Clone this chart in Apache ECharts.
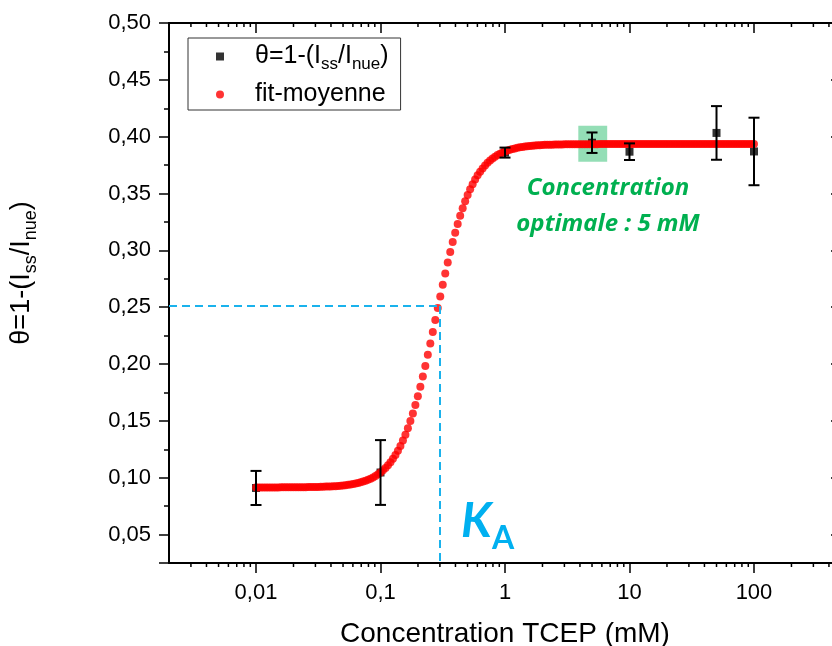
<!DOCTYPE html>
<html>
<head>
<meta charset="utf-8">
<script src="https://cdn.jsdelivr.net/npm/echarts@6/dist/echarts.min.js"></script>
<style>html,body{margin:0;padding:0;background:#fff;}#c{width:832px;height:646px;}</style>
</head>
<body>
<div id="c"></div>
<script>
// ---- data ----
const dataX = [0.01, 0.1, 1, 5, 10, 50, 100];
const dataY = [0.091, 0.1046, 0.386, 0.3947, 0.3868, 0.4033, 0.387];
const dataErr = [0.015, 0.0285, 0.0044, 0.009, 0.0073, 0.0236, 0.0297];

const fitX = [
0.01,0.010471,0.010965,0.011482,0.012023,0.012589,0.013183,0.013804,0.014454,0.015136,
0.015849,0.016596,0.017378,0.018197,0.019055,0.019953,0.020893,0.021878,0.022909,0.023988,
0.025119,0.026303,0.027542,0.02884,0.0302,0.031623,0.033113,0.034674,0.036308,0.038019,
0.039811,0.041687,0.043652,0.045709,0.047863,0.050119,0.052481,0.054954,0.057544,0.060256,
0.063096,0.066069,0.069183,0.072444,0.075858,0.079433,0.083176,0.087096,0.091201,0.095499,
0.1,0.10471,0.10965,0.11482,0.12023,0.12589,0.13183,0.13804,0.14454,0.15136,
0.15849,0.16596,0.17378,0.18197,0.19055,0.19953,0.20893,0.21878,0.22909,0.23988,
0.25119,0.26303,0.27542,0.2884,0.302,0.31623,0.33113,0.34674,0.36308,0.38019,
0.39811,0.41687,0.43652,0.45709,0.47863,0.50119,0.52481,0.54954,0.57544,0.60256,
0.63096,0.66069,0.69183,0.72444,0.75858,0.79433,0.83176,0.87096,0.91201,0.95499,
1,1.0471,1.0965,1.1482,1.2023,1.2589,1.3183,1.3804,1.4454,1.5136,
1.5849,1.6596,1.7378,1.8197,1.9055,1.9953,2.0893,2.1878,2.2909,2.3988,
2.5119,2.6303,2.7542,2.884,3.02,3.1623,3.3113,3.4674,3.6308,3.8019,
3.9811,4.1687,4.3652,4.5709,4.7863,5.0119,5.2481,5.4954,5.7544,6.0256,
6.3096,6.6069,6.9183,7.2444,7.5858,7.9433,8.3176,8.7096,9.1201,9.5499,
10,10.471,10.965,11.482,12.023,12.589,13.183,13.804,14.454,15.136,
15.849,16.596,17.378,18.197,19.055,19.953,20.893,21.878,22.909,23.988,
25.119,26.303,27.542,28.84,30.2,31.623,33.113,34.674,36.308,38.019,
39.811,41.687,43.652,45.709,47.863,50.119,52.481,54.954,57.544,60.256,
63.096,66.069,69.183,72.444,75.858,79.433,83.176,87.096,91.201,95.499,
100];

const fitY = [
0.0915,0.0915,0.0915,0.0915,0.0915,0.0915,0.0915,0.0915,0.0915,0.0915,
0.0916,0.0916,0.0916,0.0916,0.0916,0.0916,0.0916,0.0916,0.0917,0.0917,
0.0917,0.0918,0.0918,0.0918,0.0919,0.0919,0.0920,0.0921,0.0922,0.0923,
0.0924,0.0925,0.0926,0.0928,0.0930,0.0932,0.0935,0.0938,0.0941,0.0945,
0.0949,0.0954,0.0960,0.0966,0.0974,0.0982,0.0992,0.1003,0.1016,0.1030,
0.1047,0.1065,0.1086,0.1110,0.1136,0.1167,0.1200,0.1238,0.1280,0.1327,
0.1379,0.1435,0.1498,0.1565,0.1639,0.1717,0.1801,0.1890,0.1983,0.2081,
0.2181,0.2283,0.2387,0.2492,0.2595,0.2697,0.2797,0.2893,0.2985,0.3073,
0.3155,0.3233,0.3304,0.3371,0.3431,0.3487,0.3537,0.3582,0.3623,0.3660,
0.3692,0.3721,0.3747,0.3770,0.3790,0.3808,0.3824,0.3838,0.3850,0.3861,
0.3870,0.3878,0.3886,0.3892,0.3897,0.3902,0.3906,0.3910,0.3913,0.3916,
0.3918,0.3921,0.3922,0.3924,0.3925,0.3927,0.3928,0.3929,0.3930,0.3930,
0.3931,0.3931,0.3932,0.3932,0.3933,0.3933,0.3933,0.3933,0.3934,0.3934,
0.3934,0.3934,0.3934,0.3934,0.3934,0.3934,0.3934,0.3934,0.3935,0.3935,
0.3935,0.3935,0.3935,0.3935,0.3935,0.3935,0.3935,0.3935,0.3935,0.3935,
0.3935,0.3935,0.3935,0.3935,0.3935,0.3935,0.3935,0.3935,0.3935,0.3935,
0.3935,0.3935,0.3935,0.3935,0.3935,0.3935,0.3935,0.3935,0.3935,0.3935,
0.3935,0.3935,0.3935,0.3935,0.3935,0.3935,0.3935,0.3935,0.3935,0.3935,
0.3935,0.3935,0.3935,0.3935,0.3935,0.3935,0.3935,0.3935,0.3935,0.3935,
0.3935,0.3935,0.3935,0.3935,0.3935,0.3935,0.3935,0.3935,0.3935,0.3935,
0.3935];

const xTickValues = [0.01, 0.1, 1, 10, 100];
const xTickLabels = ['0,01', '0,1', '1', '10', '100'];
const xMinorTickValues = [
0.003, 0.004, 0.005, 0.006, 0.007, 0.008, 0.009,
0.02, 0.03, 0.04, 0.05, 0.06, 0.07, 0.08, 0.09,
0.2, 0.3, 0.4, 0.5, 0.6, 0.7, 0.8, 0.9,
2, 3, 4, 5, 6, 7, 8, 9,
20, 30, 40, 50, 60, 70, 80, 90,
200, 300, 400];
const yTickValues = [0.05, 0.10, 0.15, 0.20, 0.25, 0.30, 0.35, 0.40, 0.45, 0.50];
const yTickLabels = ['0,05', '0,10', '0,15', '0,20', '0,25', '0,30', '0,35', '0,40', '0,45', '0,50'];

const xRange = [0.002, 500];
const yRange = [0.025, 0.5];
const kaPoint = [0.297, 0.251];
const optimumBox = [[3.88, 0.4097], [6.62, 0.378]];

const seriesNames = ['θ=1-(Iss/Inue)', 'fit-moyenne'];

// ---- chart ----
const FONT = 'Arial, "Liberation Sans", sans-serif';
const chart = echarts.init(document.getElementById('c'), null, {renderer: 'canvas'});

function xLabel(v) {
  for (let i = 0; i < xTickValues.length; i++) {
    if (Math.abs(Math.log10(v) - Math.log10(xTickValues[i])) < 1e-3) return xTickLabels[i];
  }
  return '';
}
function yLabel(v) {
  for (let i = 0; i < yTickValues.length; i++) {
    if (Math.abs(v - yTickValues[i]) < 1e-6) return yTickLabels[i];
  }
  return '';
}

const tickLine = {color: '#000', width: 1.5};
const axisLine = {show: true, onZero: false, lineStyle: {color: '#000', width: 2}};

const xCommon = {
  type: 'log', logBase: 10, min: xRange[0], max: xRange[1],
  axisLine: axisLine, splitLine: {show: false},
  minorTick: {show: false}, minorSplitLine: {show: false}
};
const yCommon = {
  type: 'value', min: yRange[0], max: yRange[1], minInterval: 0.05, maxInterval: 0.05,
  axisLine: axisLine, splitLine: {show: false},
  minorTick: {show: true, splitNumber: 2, length: 5, lineStyle: tickLine},
  minorSplitLine: {show: false}
};

const option = {
  animation: false,
  backgroundColor: '#fff',
  grid: {left: 169, top: 23, right: -9, bottom: 83, containLabel: false, outerBoundsMode: 'none'},
  legend: {
    orient: 'vertical', left: 188, top: 38,
    padding: [2, 12, 3, 28], itemGap: 9, itemWidth: 8, itemHeight: 8,
    borderColor: '#333', borderWidth: 1, backgroundColor: '#fff', selectedMode: false,
    data: [
      {name: seriesNames[0], icon: 'rect', itemStyle: {color: '#000'}},
      {name: seriesNames[1], icon: 'circle', itemStyle: {color: '#ff0000'}}
    ],
    formatter: function (name) {
      if (name === seriesNames[0]) return '{n|θ=1-(I}{s|ss}{n|/I}{s|nue}{n|)}';
      return '{n|' + name + '}';
    },
    textStyle: {
      color: '#000', fontFamily: FONT, fontSize: 25, padding: [0, 0, 0, 26],
      rich: {
        n: {fontSize: 25, lineHeight: 33, fontFamily: FONT, color: '#000'},
        s: {fontSize: 17, lineHeight: 17, padding: [16, 0, 0, 0], fontFamily: FONT, color: '#000'}
      }
    }
  },
  xAxis: [
    Object.assign({}, xCommon, {
      position: 'bottom',
      axisTick: {show: true, inside: false, length: 10, lineStyle: tickLine},
      axisLabel: {show: true, formatter: xLabel, fontSize: 22, fontFamily: FONT, color: '#000', margin: 19,
        showMinLabel: false, showMaxLabel: false},
      name: 'Concentration TCEP (mM)', nameLocation: 'middle', nameGap: 57,
      nameTextStyle: {fontSize: 28, fontFamily: FONT, color: '#000'}
    }),
    Object.assign({}, xCommon, {
      position: 'top',
      axisTick: {show: true, inside: true, length: 10, lineStyle: tickLine},
      axisLabel: {show: false}
    })
  ],
  yAxis: [
    Object.assign({}, yCommon, {
      position: 'left',
      axisTick: {show: true, inside: false, length: 10, lineStyle: tickLine},
      axisLabel: {show: true, formatter: yLabel, fontSize: 22, fontFamily: FONT, color: '#000', margin: 18,
        showMinLabel: false}
    }),
    Object.assign({}, yCommon, {
      position: 'right',
      axisTick: {show: true, inside: true, length: 10, lineStyle: tickLine},
      minorTick: {show: true, splitNumber: 2, length: 5, lineStyle: tickLine},
      axisLabel: {show: false}
    })
  ],
  series: [
    {
      name: 'xMinorTicks', type: 'custom', xAxisIndex: 0, yAxisIndex: 0, z: 5, silent: true,
      clip: false,
      data: xMinorTickValues.map(v => [v, yRange[0]]),
      encode: {x: 0, y: 1},
      renderItem: function (params, api) {
        const v = api.value(0);
        const b = api.coord([v, yRange[0]]);
        const t = api.coord([v, yRange[1]]);
        const st = {stroke: '#000', lineWidth: 1.5};
        return {
          type: 'group',
          children: [
            {type: 'line', shape: {x1: b[0], y1: b[1], x2: b[0], y2: b[1] + 4}, style: st},
            {type: 'line', shape: {x1: t[0], y1: t[1], x2: t[0], y2: t[1] + 4}, style: st}
          ]
        };
      }
    },
    {
      name: seriesNames[0], type: 'scatter', xAxisIndex: 0, yAxisIndex: 0,
      symbol: 'rect', symbolSize: 8, itemStyle: {color: '#000'}, z: 2,
      data: dataX.map((x, i) => [x, dataY[i]]),
      markArea: {
        silent: true, z: 1,
        itemStyle: {color: 'rgba(0,176,80,0.42)'},
        data: [[{coord: optimumBox[0]}, {coord: optimumBox[1]}]]
      }
    },
    {
      name: seriesNames[1], type: 'scatter', xAxisIndex: 0, yAxisIndex: 0,
      symbol: 'circle', symbolSize: 8, itemStyle: {color: '#ff0000'}, z: 3,
      data: fitX.map((x, i) => [x, fitY[i]]),
      markLine: {
        silent: true, symbol: 'none', label: {show: false},
        lineStyle: {color: '#1ab2ec', width: 2, type: [8, 5]},
        data: [
          [{coord: [xRange[0], kaPoint[1]]}, {coord: [kaPoint[0], kaPoint[1]]}],
          [{coord: [kaPoint[0], kaPoint[1]]}, {coord: [kaPoint[0], yRange[0]]}]
        ]
      }
    },
    {
      name: 'err', type: 'custom', xAxisIndex: 0, yAxisIndex: 0, z: 4,
      data: dataX.map((x, i) => [x, dataY[i] - dataErr[i], dataY[i] + dataErr[i]]),
      encode: {x: 0, y: [1, 2]},
      renderItem: function (params, api) {
        const x = api.value(0);
        const top = api.coord([x, api.value(2)]);
        const bot = api.coord([x, api.value(1)]);
        const w = 5.5;
        const st = {stroke: '#000', lineWidth: 2};
        return {
          type: 'group',
          children: [
            {type: 'line', shape: {x1: top[0], y1: top[1], x2: bot[0], y2: bot[1]}, style: st},
            {type: 'line', shape: {x1: top[0] - w, y1: top[1], x2: top[0] + w, y2: top[1]}, style: st},
            {type: 'line', shape: {x1: bot[0] - w, y1: bot[1], x2: bot[0] + w, y2: bot[1]}, style: st}
          ]
        };
      }
    }
  ],
  graphic: [
    {
      type: 'text', x: 22, y: 273, rotation: Math.PI / 2,
      style: {
        text: '{n|θ=1-(I}{s|ss}{n|/I}{s|nue}{n|)}', align: 'center', verticalAlign: 'middle',
        rich: {
          n: {fontSize: 27, lineHeight: 36, fontFamily: FONT, fill: '#000'},
          s: {fontSize: 18, lineHeight: 18, padding: [18, 0, 0, 0], fontFamily: FONT, fill: '#000'}
        }
      }
    },
    {
      type: 'text', x: 608, y: 188,
      style: {text: 'Concentration', align: 'center', verticalAlign: 'middle',
        font: 'italic bold 24px "Open Sans"', fill: '#00b050'}
    },
    {
      type: 'text', x: 608, y: 224,
      style: {text: 'optimale : 5 mM', align: 'center', verticalAlign: 'middle',
        font: 'italic bold 24px "Open Sans"', fill: '#00b050'}
    },
    {
      type: 'text', x: 461, y: 522,
      style: {text: 'K', align: 'left', verticalAlign: 'middle',
        font: 'italic bold 48px Lato', fill: '#00b0f0'}
    },
    {
      type: 'text', x: 492, y: 539,
      style: {text: 'A', align: 'left', verticalAlign: 'middle',
        font: 'bold 32px Lato', fill: '#00b0f0'}
    }
  ]
};
chart.setOption(option);
</script>
</body>
</html>
